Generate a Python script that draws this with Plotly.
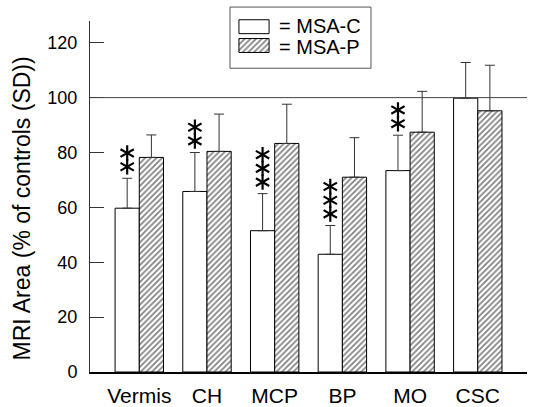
import plotly.graph_objects as go

# ---- data ----
categories = ["Vermis", "CH", "MCP", "BP", "MO", "CSC"]
msa_c = [59.7, 65.8, 51.5, 42.9, 73.4, 99.8]
msa_c_sd = [10.9, 14.2, 13.5, 10.5, 12.9, 13.0]
msa_p = [78.2, 80.4, 83.3, 71.0, 87.4, 95.2]
msa_p_sd = [8.2, 13.6, 14.3, 14.4, 14.9, 16.6]
stars = [2, 2, 3, 3, 2, 0]
y_ticks = [0, 20, 40, 60, 80, 100, 120]
legend_labels = ["= MSA-C", "= MSA-P"]

FONT = "Liberation Sans, Arial, sans-serif"
BARGAP = 0.285
x = list(range(len(categories)))

fig = go.Figure()

err_style = dict(type="data", symmetric=False, color="#333333", thickness=1, width=5)
hatch = dict(fgcolor="#000000", bgcolor="white", size=4, solidity=0.42)

fig.add_bar(
    x=x, y=msa_c, name="MSA-C", showlegend=False,
    marker=dict(color="white", line=dict(color="black", width=1)),
    error_y=dict(array=msa_c_sd, arrayminus=[0] * len(msa_c), **err_style),
)
fig.add_bar(
    x=x, y=msa_p, name="MSA-P", showlegend=False,
    marker=dict(color="white", pattern=dict(shape="/", **hatch),
                line=dict(color="black", width=1)),
    error_y=dict(array=msa_p_sd, arrayminus=[0] * len(msa_p), **err_style),
)

# significance asterisks above MSA-C error bars
off = (1 - BARGAP) / 4
sx, sy = [], []
for i, n in enumerate(stars):
    for k in range(n):
        sx.append(i - off)
        sy.append(msa_c[i] + msa_c_sd[i] + 4.2 + 5.0 * k)
for ang in (0, 60, -60):
    fig.add_scatter(
        x=sx, y=sy, mode="markers", showlegend=False, hoverinfo="skip",
        marker=dict(symbol="line-ns-open", size=11, angle=ang, color="black",
                    line=dict(color="black", width=2.2)),
    )

# legend swatches drawn as bars on an overlay axis
fig.add_bar(
    x=[1, 1], y=[1, 0], base=0, orientation="h", width=0.74,
    xaxis="x2", yaxis="y2", showlegend=False, hoverinfo="skip",
    marker=dict(color="white", pattern=dict(shape=["", "/"], **hatch),
                line=dict(color="black", width=1)),
)

lab_font = dict(size=20, color="black", family=FONT)
annotations = [
    dict(text=legend_labels[0], x=0.428, y=0.931, xref="paper", yref="paper",
         xanchor="left", yanchor="middle", showarrow=False, font=lab_font),
    dict(text=legend_labels[1], x=0.428, y=0.873, xref="paper", yref="paper",
         xanchor="left", yanchor="middle", showarrow=False, font=lab_font),
    dict(text="MRI Area (% of controls (SD))", x=-0.156, y=0.439, xref="paper", yref="paper",
         textangle=-90, showarrow=False, xanchor="center", yanchor="middle",
         font=dict(size=23, color="black", family=FONT)),
]

shapes = [
    dict(type="line", xref="paper", yref="y", x0=0, x1=1, y0=100, y1=100,
         line=dict(color="#444444", width=1)),
    dict(type="rect", xref="paper", yref="paper", x0=0.3204, x1=0.643, y0=0.8165, y1=0.981,
         line=dict(color="#555555", width=1), fillcolor="rgba(0,0,0,0)"),
]

fig.update_layout(
    width=533, height=407,
    margin=dict(l=90, r=6, t=0, b=31, pad=0),
    paper_bgcolor="white", plot_bgcolor="white",
    barmode="group", bargap=BARGAP, bargroupgap=0,
    font=dict(family=FONT, color="black"),
    annotations=annotations, shapes=shapes,
    xaxis=dict(range=[-0.728, 5.727], tickvals=x, ticktext=categories,
               showgrid=False, zeroline=False, showline=True, linecolor="black", linewidth=1.5,
               ticks="", ticklabelstandoff=4, tickfont=dict(size=21, family=FONT, color="black")),
    yaxis=dict(domain=[0, 0.9441], range=[0, 128], tickvals=y_ticks,
               showgrid=False, zeroline=False, showline=True, linecolor="#333333", linewidth=1,
               ticks="inside", ticklen=14, tickcolor="#333333", tickwidth=1,
               ticklabelstandoff=8, tickfont=dict(size=18, family=FONT, color="black")),
    xaxis2=dict(domain=[0.3387, 0.4119], range=[-0.03, 1.03], visible=False, anchor="y2"),
    yaxis2=dict(domain=[0.8524, 0.9535], range=[-0.5, 1.5], visible=False, anchor="x2"),
)

fig.write_html("out.html")
